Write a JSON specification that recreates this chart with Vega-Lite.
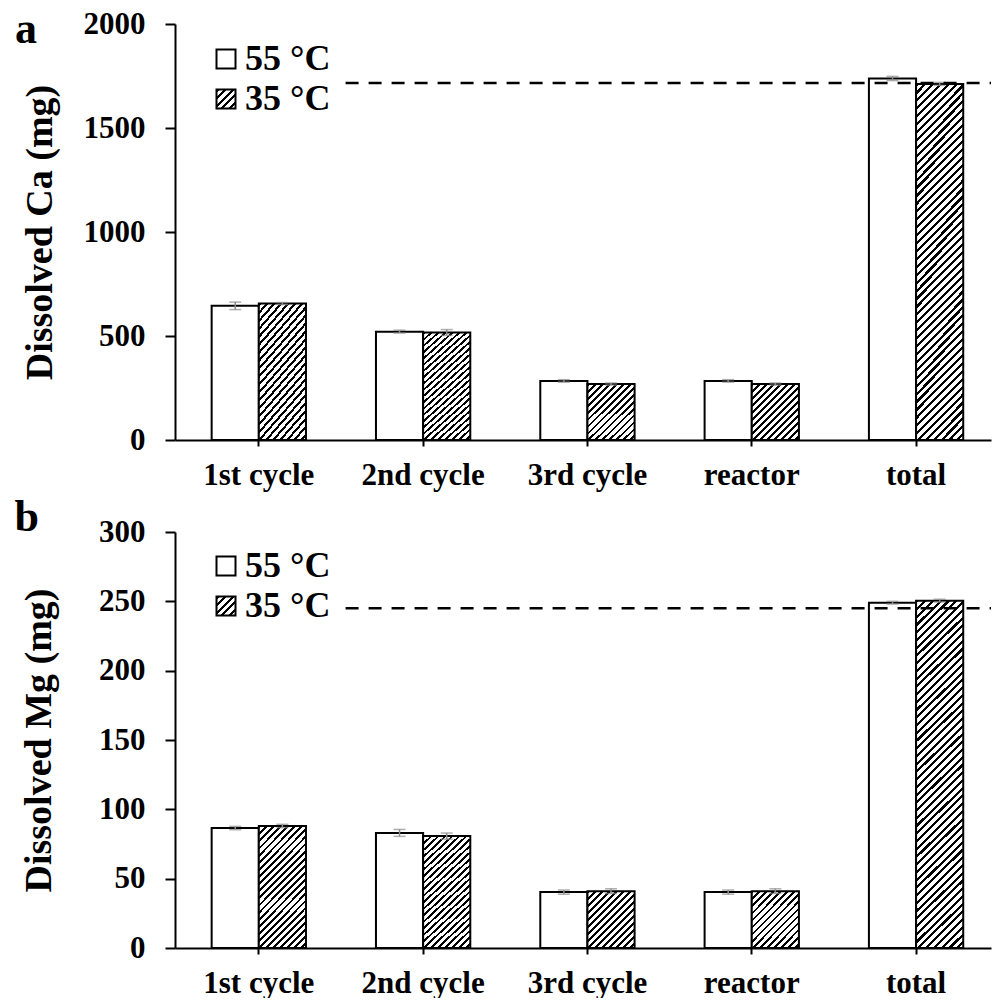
{
  "$schema": "https://vega.github.io/schema/vega-lite/v6.json",
  "padding": {"left": 14, "top": 8, "right": 0, "bottom": 0},
  "spacing": 6,
  "datasets": {
    "bars": [
      {"metal":"Ca","cat":"1st cycle","temp":"55 °C","value":645,"lo":627,"hi":663},
      {"metal":"Ca","cat":"1st cycle","temp":"35 °C","value":656,"lo":651,"hi":661},
      {"metal":"Ca","cat":"2nd cycle","temp":"55 °C","value":521,"lo":514,"hi":528},
      {"metal":"Ca","cat":"2nd cycle","temp":"35 °C","value":517,"lo":503,"hi":531},
      {"metal":"Ca","cat":"3rd cycle","temp":"55 °C","value":284,"lo":278,"hi":290},
      {"metal":"Ca","cat":"3rd cycle","temp":"35 °C","value":269,"lo":264,"hi":274},
      {"metal":"Ca","cat":"reactor","temp":"55 °C","value":284,"lo":278,"hi":290},
      {"metal":"Ca","cat":"reactor","temp":"35 °C","value":269,"lo":264,"hi":274},
      {"metal":"Ca","cat":"total","temp":"55 °C","value":1738,"lo":1728,"hi":1748},
      {"metal":"Ca","cat":"total","temp":"35 °C","value":1712,"lo":1705,"hi":1719},
      {"metal":"Mg","cat":"1st cycle","temp":"55 °C","value":86.5,"lo":85.3,"hi":87.7},
      {"metal":"Mg","cat":"1st cycle","temp":"35 °C","value":88,"lo":86.8,"hi":89.2},
      {"metal":"Mg","cat":"2nd cycle","temp":"55 °C","value":83,"lo":80.5,"hi":85.5},
      {"metal":"Mg","cat":"2nd cycle","temp":"35 °C","value":80.7,"lo":78.5,"hi":82.9},
      {"metal":"Mg","cat":"3rd cycle","temp":"55 °C","value":40.3,"lo":38.8,"hi":41.8},
      {"metal":"Mg","cat":"3rd cycle","temp":"35 °C","value":41,"lo":39.3,"hi":42.7},
      {"metal":"Mg","cat":"reactor","temp":"55 °C","value":40.3,"lo":38.8,"hi":41.8},
      {"metal":"Mg","cat":"reactor","temp":"35 °C","value":41,"lo":39.3,"hi":42.7},
      {"metal":"Mg","cat":"total","temp":"55 °C","value":249,"lo":248,"hi":250},
      {"metal":"Mg","cat":"total","temp":"35 °C","value":250.5,"lo":249.5,"hi":251.5}
    ],
    "refs": [
      {"metal":"Ca","ref":1716},
      {"metal":"Mg","ref":245}
    ]
  },
  "resolve": {
    "scale": {"x": "independent", "y": "independent", "xOffset": "independent", "fill": "independent"},
    "legend": {"fill": "independent"}
  },
  "vconcat": [
    {
      "width": 816,
      "height": 416,
      "title": {"text": "a", "dy": 48, "dx": -6},
      "layer": [
        {
          "data": {"name": "bars"},
          "transform": [{"filter": "datum.metal === 'Ca'"}],
          "encoding": {
            "x": {"field": "cat", "type": "nominal", "title": null,
              "scale": {"domain": ["1st cycle","2nd cycle","3rd cycle","reactor","total"], "paddingInner": 0.426, "paddingOuter": 0.196, "align": 0.569}},
            "xOffset": {"field": "temp", "type": "nominal", "scale": {"domain": ["55 °C","35 °C"]}}
          },
          "layer": [
            {
              "transform": [{"filter": "datum.temp === '55 °C'"}],
              "mark": {"type": "bar", "stroke": "black", "strokeWidth": 2},
              "encoding": {
                "y": {"field": "value", "type": "quantitative", "title": "Dissolved Ca (mg)",
                  "scale": {"domain": [0, 2000], "nice": false},
                  "axis": {"values": [0,500,1000,1500,2000], "format": "d", "titlePadding": 24}},
                "fill": {"field": "temp", "type": "nominal",
                  "scale": {"domain": ["55 °C","35 °C"], "range": ["white", {"expr": "({gradient: 'linear', x1: 0, y1: 0, x2: 1, y2: 1, stops: [{offset: 0, color: '#000'}, {offset: 0.08, color: '#000'}, {offset: 0.08, color: '#fff'}, {offset: 0.2, color: '#fff'}, {offset: 0.2, color: '#000'}, {offset: 0.28, color: '#000'}, {offset: 0.28, color: '#fff'}, {offset: 0.4, color: '#fff'}, {offset: 0.4, color: '#000'}, {offset: 0.48, color: '#000'}, {offset: 0.48, color: '#fff'}, {offset: 0.6, color: '#fff'}, {offset: 0.6, color: '#000'}, {offset: 0.68, color: '#000'}, {offset: 0.68, color: '#fff'}, {offset: 0.8, color: '#fff'}, {offset: 0.8, color: '#000'}, {offset: 0.88, color: '#000'}, {offset: 0.88, color: '#fff'}, {offset: 1, color: '#fff'}]})"}]},
                  "legend": {"title": null, "legendX": 33, "legendY": 17}
                }
              }
            },
            {
              "transform": [{"filter": "datum.temp === '35 °C' && (datum.cat === '1st cycle' || datum.cat === '2nd cycle')"}],
              "mark": {"type": "bar", "stroke": "black", "strokeWidth": 2, "fill": {"gradient": "linear", "x1": 0, "y1": 0, "x2": 0.49637, "y2": 1.2633, "stops": [
        {"offset":0,"color":"#000"},{"offset":0.016,"color":"#000"},{"offset":0.016,"color":"#fff"},{"offset":0.04,"color":"#fff"},
        {"offset":0.04,"color":"#000"},{"offset":0.056,"color":"#000"},{"offset":0.056,"color":"#fff"},{"offset":0.08,"color":"#fff"},
        {"offset":0.08,"color":"#000"},{"offset":0.096,"color":"#000"},{"offset":0.096,"color":"#fff"},{"offset":0.12,"color":"#fff"},
        {"offset":0.12,"color":"#000"},{"offset":0.136,"color":"#000"},{"offset":0.136,"color":"#fff"},{"offset":0.16,"color":"#fff"},
        {"offset":0.16,"color":"#000"},{"offset":0.176,"color":"#000"},{"offset":0.176,"color":"#fff"},{"offset":0.2,"color":"#fff"},
        {"offset":0.2,"color":"#000"},{"offset":0.216,"color":"#000"},{"offset":0.216,"color":"#fff"},{"offset":0.24,"color":"#fff"},
        {"offset":0.24,"color":"#000"},{"offset":0.256,"color":"#000"},{"offset":0.256,"color":"#fff"},{"offset":0.28,"color":"#fff"},
        {"offset":0.28,"color":"#000"},{"offset":0.296,"color":"#000"},{"offset":0.296,"color":"#fff"},{"offset":0.32,"color":"#fff"},
        {"offset":0.32,"color":"#000"},{"offset":0.336,"color":"#000"},{"offset":0.336,"color":"#fff"},{"offset":0.36,"color":"#fff"},
        {"offset":0.36,"color":"#000"},{"offset":0.376,"color":"#000"},{"offset":0.376,"color":"#fff"},{"offset":0.4,"color":"#fff"},
        {"offset":0.4,"color":"#000"},{"offset":0.416,"color":"#000"},{"offset":0.416,"color":"#fff"},{"offset":0.44,"color":"#fff"},
        {"offset":0.44,"color":"#000"},{"offset":0.456,"color":"#000"},{"offset":0.456,"color":"#fff"},{"offset":0.48,"color":"#fff"},
        {"offset":0.48,"color":"#000"},{"offset":0.496,"color":"#000"},{"offset":0.496,"color":"#fff"},{"offset":0.52,"color":"#fff"},
        {"offset":0.52,"color":"#000"},{"offset":0.536,"color":"#000"},{"offset":0.536,"color":"#fff"},{"offset":0.56,"color":"#fff"},
        {"offset":0.56,"color":"#000"},{"offset":0.576,"color":"#000"},{"offset":0.576,"color":"#fff"},{"offset":0.6,"color":"#fff"},
        {"offset":0.6,"color":"#000"},{"offset":0.616,"color":"#000"},{"offset":0.616,"color":"#fff"},{"offset":0.64,"color":"#fff"},
        {"offset":0.64,"color":"#000"},{"offset":0.656,"color":"#000"},{"offset":0.656,"color":"#fff"},{"offset":0.68,"color":"#fff"},
        {"offset":0.68,"color":"#000"},{"offset":0.696,"color":"#000"},{"offset":0.696,"color":"#fff"},{"offset":0.72,"color":"#fff"},
        {"offset":0.72,"color":"#000"},{"offset":0.736,"color":"#000"},{"offset":0.736,"color":"#fff"},{"offset":0.76,"color":"#fff"},
        {"offset":0.76,"color":"#000"},{"offset":0.776,"color":"#000"},{"offset":0.776,"color":"#fff"},{"offset":0.8,"color":"#fff"},
        {"offset":0.8,"color":"#000"},{"offset":0.816,"color":"#000"},{"offset":0.816,"color":"#fff"},{"offset":0.84,"color":"#fff"},
        {"offset":0.84,"color":"#000"},{"offset":0.856,"color":"#000"},{"offset":0.856,"color":"#fff"},{"offset":0.88,"color":"#fff"},
        {"offset":0.88,"color":"#000"},{"offset":0.896,"color":"#000"},{"offset":0.896,"color":"#fff"},{"offset":0.92,"color":"#fff"},
        {"offset":0.92,"color":"#000"},{"offset":0.936,"color":"#000"},{"offset":0.936,"color":"#fff"},{"offset":0.96,"color":"#fff"}
              ]}},
              "encoding": {"y": {"field": "value", "type": "quantitative", "title": "Dissolved Ca (mg)"}}
            },
            {
              "transform": [{"filter": "datum.temp === '35 °C' && (datum.cat === '3rd cycle' || datum.cat === 'reactor')"}],
              "mark": {"type": "bar", "stroke": "black", "strokeWidth": 2, "fill": {"gradient": "linear", "x1": 0, "y1": 0, "x2": 0.97515, "y2": 1.16853, "stops": [
        {"offset":0,"color":"#000"},{"offset":0.025,"color":"#000"},{"offset":0.025,"color":"#fff"},{"offset":0.0625,"color":"#fff"},
        {"offset":0.0625,"color":"#000"},{"offset":0.0875,"color":"#000"},{"offset":0.0875,"color":"#fff"},{"offset":0.125,"color":"#fff"},
        {"offset":0.125,"color":"#000"},{"offset":0.15,"color":"#000"},{"offset":0.15,"color":"#fff"},{"offset":0.1875,"color":"#fff"},
        {"offset":0.1875,"color":"#000"},{"offset":0.2125,"color":"#000"},{"offset":0.2125,"color":"#fff"},{"offset":0.25,"color":"#fff"},
        {"offset":0.25,"color":"#000"},{"offset":0.275,"color":"#000"},{"offset":0.275,"color":"#fff"},{"offset":0.3125,"color":"#fff"},
        {"offset":0.3125,"color":"#000"},{"offset":0.3375,"color":"#000"},{"offset":0.3375,"color":"#fff"},{"offset":0.375,"color":"#fff"},
        {"offset":0.375,"color":"#000"},{"offset":0.4,"color":"#000"},{"offset":0.4,"color":"#fff"},{"offset":0.4375,"color":"#fff"},
        {"offset":0.4375,"color":"#000"},{"offset":0.4625,"color":"#000"},{"offset":0.4625,"color":"#fff"},{"offset":0.5,"color":"#fff"},
        {"offset":0.5,"color":"#000"},{"offset":0.525,"color":"#000"},{"offset":0.525,"color":"#fff"},{"offset":0.5625,"color":"#fff"},
        {"offset":0.5625,"color":"#000"},{"offset":0.5875,"color":"#000"},{"offset":0.5875,"color":"#fff"},{"offset":0.625,"color":"#fff"},
        {"offset":0.625,"color":"#000"},{"offset":0.65,"color":"#000"},{"offset":0.65,"color":"#fff"},{"offset":0.6875,"color":"#fff"},
        {"offset":0.6875,"color":"#000"},{"offset":0.7125,"color":"#000"},{"offset":0.7125,"color":"#fff"},{"offset":0.75,"color":"#fff"},
        {"offset":0.75,"color":"#000"},{"offset":0.775,"color":"#000"},{"offset":0.775,"color":"#fff"},{"offset":0.8125,"color":"#fff"},
        {"offset":0.8125,"color":"#000"},{"offset":0.8375,"color":"#000"},{"offset":0.8375,"color":"#fff"},{"offset":0.875,"color":"#fff"},
        {"offset":0.875,"color":"#000"},{"offset":0.9,"color":"#000"},{"offset":0.9,"color":"#fff"},{"offset":0.9375,"color":"#fff"}
              ]}},
              "encoding": {"y": {"field": "value", "type": "quantitative", "title": "Dissolved Ca (mg)"}}
            },
            {
              "transform": [{"filter": "datum.temp === '35 °C' && datum.cat === 'total'"}],
              "mark": {"type": "bar", "stroke": "black", "strokeWidth": 2, "fill": {"gradient": "linear", "x1": 0, "y1": 0, "x2": 0.15037, "y2": 1.1194, "stops": [
        {"offset":0,"color":"#000"},{"offset":0.0078125,"color":"#000"},{"offset":0.0078125,"color":"#fff"},{"offset":0.01953125,"color":"#fff"},
        {"offset":0.01953125,"color":"#000"},{"offset":0.02734375,"color":"#000"},{"offset":0.02734375,"color":"#fff"},{"offset":0.0390625,"color":"#fff"},
        {"offset":0.0390625,"color":"#000"},{"offset":0.046875,"color":"#000"},{"offset":0.046875,"color":"#fff"},{"offset":0.05859375,"color":"#fff"},
        {"offset":0.05859375,"color":"#000"},{"offset":0.06640625,"color":"#000"},{"offset":0.06640625,"color":"#fff"},{"offset":0.078125,"color":"#fff"},
        {"offset":0.078125,"color":"#000"},{"offset":0.0859375,"color":"#000"},{"offset":0.0859375,"color":"#fff"},{"offset":0.09765625,"color":"#fff"},
        {"offset":0.09765625,"color":"#000"},{"offset":0.10546875,"color":"#000"},{"offset":0.10546875,"color":"#fff"},{"offset":0.1171875,"color":"#fff"},
        {"offset":0.1171875,"color":"#000"},{"offset":0.125,"color":"#000"},{"offset":0.125,"color":"#fff"},{"offset":0.13671875,"color":"#fff"},
        {"offset":0.13671875,"color":"#000"},{"offset":0.14453125,"color":"#000"},{"offset":0.14453125,"color":"#fff"},{"offset":0.15625,"color":"#fff"},
        {"offset":0.15625,"color":"#000"},{"offset":0.1640625,"color":"#000"},{"offset":0.1640625,"color":"#fff"},{"offset":0.17578125,"color":"#fff"},
        {"offset":0.17578125,"color":"#000"},{"offset":0.18359375,"color":"#000"},{"offset":0.18359375,"color":"#fff"},{"offset":0.1953125,"color":"#fff"},
        {"offset":0.1953125,"color":"#000"},{"offset":0.203125,"color":"#000"},{"offset":0.203125,"color":"#fff"},{"offset":0.21484375,"color":"#fff"},
        {"offset":0.21484375,"color":"#000"},{"offset":0.22265625,"color":"#000"},{"offset":0.22265625,"color":"#fff"},{"offset":0.234375,"color":"#fff"},
        {"offset":0.234375,"color":"#000"},{"offset":0.2421875,"color":"#000"},{"offset":0.2421875,"color":"#fff"},{"offset":0.25390625,"color":"#fff"},
        {"offset":0.25390625,"color":"#000"},{"offset":0.26171875,"color":"#000"},{"offset":0.26171875,"color":"#fff"},{"offset":0.2734375,"color":"#fff"},
        {"offset":0.2734375,"color":"#000"},{"offset":0.28125,"color":"#000"},{"offset":0.28125,"color":"#fff"},{"offset":0.29296875,"color":"#fff"},
        {"offset":0.29296875,"color":"#000"},{"offset":0.30078125,"color":"#000"},{"offset":0.30078125,"color":"#fff"},{"offset":0.3125,"color":"#fff"},
        {"offset":0.3125,"color":"#000"},{"offset":0.3203125,"color":"#000"},{"offset":0.3203125,"color":"#fff"},{"offset":0.33203125,"color":"#fff"},
        {"offset":0.33203125,"color":"#000"},{"offset":0.33984375,"color":"#000"},{"offset":0.33984375,"color":"#fff"},{"offset":0.3515625,"color":"#fff"},
        {"offset":0.3515625,"color":"#000"},{"offset":0.359375,"color":"#000"},{"offset":0.359375,"color":"#fff"},{"offset":0.37109375,"color":"#fff"},
        {"offset":0.37109375,"color":"#000"},{"offset":0.37890625,"color":"#000"},{"offset":0.37890625,"color":"#fff"},{"offset":0.390625,"color":"#fff"},
        {"offset":0.390625,"color":"#000"},{"offset":0.3984375,"color":"#000"},{"offset":0.3984375,"color":"#fff"},{"offset":0.41015625,"color":"#fff"},
        {"offset":0.41015625,"color":"#000"},{"offset":0.41796875,"color":"#000"},{"offset":0.41796875,"color":"#fff"},{"offset":0.4296875,"color":"#fff"},
        {"offset":0.4296875,"color":"#000"},{"offset":0.4375,"color":"#000"},{"offset":0.4375,"color":"#fff"},{"offset":0.44921875,"color":"#fff"},
        {"offset":0.44921875,"color":"#000"},{"offset":0.45703125,"color":"#000"},{"offset":0.45703125,"color":"#fff"},{"offset":0.46875,"color":"#fff"},
        {"offset":0.46875,"color":"#000"},{"offset":0.4765625,"color":"#000"},{"offset":0.4765625,"color":"#fff"},{"offset":0.48828125,"color":"#fff"},
        {"offset":0.48828125,"color":"#000"},{"offset":0.49609375,"color":"#000"},{"offset":0.49609375,"color":"#fff"},{"offset":0.5078125,"color":"#fff"},
        {"offset":0.5078125,"color":"#000"},{"offset":0.515625,"color":"#000"},{"offset":0.515625,"color":"#fff"},{"offset":0.52734375,"color":"#fff"},
        {"offset":0.52734375,"color":"#000"},{"offset":0.53515625,"color":"#000"},{"offset":0.53515625,"color":"#fff"},{"offset":0.546875,"color":"#fff"},
        {"offset":0.546875,"color":"#000"},{"offset":0.5546875,"color":"#000"},{"offset":0.5546875,"color":"#fff"},{"offset":0.56640625,"color":"#fff"},
        {"offset":0.56640625,"color":"#000"},{"offset":0.57421875,"color":"#000"},{"offset":0.57421875,"color":"#fff"},{"offset":0.5859375,"color":"#fff"},
        {"offset":0.5859375,"color":"#000"},{"offset":0.59375,"color":"#000"},{"offset":0.59375,"color":"#fff"},{"offset":0.60546875,"color":"#fff"},
        {"offset":0.60546875,"color":"#000"},{"offset":0.61328125,"color":"#000"},{"offset":0.61328125,"color":"#fff"},{"offset":0.625,"color":"#fff"},
        {"offset":0.625,"color":"#000"},{"offset":0.6328125,"color":"#000"},{"offset":0.6328125,"color":"#fff"},{"offset":0.64453125,"color":"#fff"},
        {"offset":0.64453125,"color":"#000"},{"offset":0.65234375,"color":"#000"},{"offset":0.65234375,"color":"#fff"},{"offset":0.6640625,"color":"#fff"},
        {"offset":0.6640625,"color":"#000"},{"offset":0.671875,"color":"#000"},{"offset":0.671875,"color":"#fff"},{"offset":0.68359375,"color":"#fff"},
        {"offset":0.68359375,"color":"#000"},{"offset":0.69140625,"color":"#000"},{"offset":0.69140625,"color":"#fff"},{"offset":0.703125,"color":"#fff"},
        {"offset":0.703125,"color":"#000"},{"offset":0.7109375,"color":"#000"},{"offset":0.7109375,"color":"#fff"},{"offset":0.72265625,"color":"#fff"},
        {"offset":0.72265625,"color":"#000"},{"offset":0.73046875,"color":"#000"},{"offset":0.73046875,"color":"#fff"},{"offset":0.7421875,"color":"#fff"},
        {"offset":0.7421875,"color":"#000"},{"offset":0.75,"color":"#000"},{"offset":0.75,"color":"#fff"},{"offset":0.76171875,"color":"#fff"},
        {"offset":0.76171875,"color":"#000"},{"offset":0.76953125,"color":"#000"},{"offset":0.76953125,"color":"#fff"},{"offset":0.78125,"color":"#fff"},
        {"offset":0.78125,"color":"#000"},{"offset":0.7890625,"color":"#000"},{"offset":0.7890625,"color":"#fff"},{"offset":0.80078125,"color":"#fff"},
        {"offset":0.80078125,"color":"#000"},{"offset":0.80859375,"color":"#000"},{"offset":0.80859375,"color":"#fff"},{"offset":0.8203125,"color":"#fff"},
        {"offset":0.8203125,"color":"#000"},{"offset":0.828125,"color":"#000"},{"offset":0.828125,"color":"#fff"},{"offset":0.83984375,"color":"#fff"},
        {"offset":0.83984375,"color":"#000"},{"offset":0.84765625,"color":"#000"},{"offset":0.84765625,"color":"#fff"},{"offset":0.859375,"color":"#fff"},
        {"offset":0.859375,"color":"#000"},{"offset":0.8671875,"color":"#000"},{"offset":0.8671875,"color":"#fff"},{"offset":0.87890625,"color":"#fff"},
        {"offset":0.87890625,"color":"#000"},{"offset":0.88671875,"color":"#000"},{"offset":0.88671875,"color":"#fff"},{"offset":0.8984375,"color":"#fff"},
        {"offset":0.8984375,"color":"#000"},{"offset":0.90625,"color":"#000"},{"offset":0.90625,"color":"#fff"},{"offset":0.91796875,"color":"#fff"},
        {"offset":0.91796875,"color":"#000"},{"offset":0.92578125,"color":"#000"},{"offset":0.92578125,"color":"#fff"},{"offset":0.9375,"color":"#fff"},
        {"offset":0.9375,"color":"#000"},{"offset":0.9453125,"color":"#000"},{"offset":0.9453125,"color":"#fff"},{"offset":0.95703125,"color":"#fff"},
        {"offset":0.95703125,"color":"#000"},{"offset":0.96484375,"color":"#000"},{"offset":0.96484375,"color":"#fff"},{"offset":0.9765625,"color":"#fff"},
        {"offset":0.9765625,"color":"#000"},{"offset":0.984375,"color":"#000"},{"offset":0.984375,"color":"#fff"},{"offset":1,"color":"#fff"}
              ]}},
              "encoding": {"y": {"field": "value", "type": "quantitative", "title": "Dissolved Ca (mg)"}}
            },
            {
              "mark": {"type": "rule", "color": "#8c8c8c", "strokeWidth": 1.5},
              "encoding": {"y": {"field": "lo", "type": "quantitative", "title": "Dissolved Ca (mg)"}, "y2": {"field": "hi"}}
            },
            {
              "mark": {"type": "tick", "color": "#8c8c8c", "thickness": 1.5, "size": 12},
              "encoding": {"y": {"field": "lo", "type": "quantitative", "title": "Dissolved Ca (mg)"}}
            },
            {
              "mark": {"type": "tick", "color": "#8c8c8c", "thickness": 1.5, "size": 12},
              "encoding": {"y": {"field": "hi", "type": "quantitative", "title": "Dissolved Ca (mg)"}}
            }
          ]
        },
        {
          "data": {"name": "refs"},
          "transform": [{"filter": "datum.metal === 'Ca'"}],
          "mark": {"type": "rule", "color": "black", "strokeWidth": 2.5, "strokeDash": [13, 10]},
          "encoding": {
            "x": {"datum": "1st cycle", "type": "nominal", "bandPosition": 1.42, "title": null},
            "x2": {"value": "width"},
            "y": {"field": "ref", "type": "quantitative", "title": "Dissolved Ca (mg)"}
          }
        }
      ]
    },
    {
      "width": 816,
      "height": 416,
      "title": {"text": "b", "dy": 28, "dx": -6},
      "layer": [
        {
          "data": {"name": "bars"},
          "transform": [{"filter": "datum.metal === 'Mg'"}],
          "encoding": {
            "x": {"field": "cat", "type": "nominal", "title": null,
              "scale": {"domain": ["1st cycle","2nd cycle","3rd cycle","reactor","total"], "paddingInner": 0.426, "paddingOuter": 0.196, "align": 0.569}},
            "xOffset": {"field": "temp", "type": "nominal", "scale": {"domain": ["55 °C","35 °C"]}}
          },
          "layer": [
            {
              "transform": [{"filter": "datum.temp === '55 °C'"}],
              "mark": {"type": "bar", "stroke": "black", "strokeWidth": 2},
              "encoding": {
                "y": {"field": "value", "type": "quantitative", "title": "Dissolved Mg (mg)",
                  "scale": {"domain": [0, 300], "nice": false},
                  "axis": {"values": [0,50,100,150,200,250,300], "format": "d", "titlePadding": 40}},
                "fill": {"field": "temp", "type": "nominal",
                  "scale": {"domain": ["55 °C","35 °C"], "range": ["white", {"expr": "({gradient: 'linear', x1: 0, y1: 0, x2: 1, y2: 1, stops: [{offset: 0, color: '#000'}, {offset: 0.08, color: '#000'}, {offset: 0.08, color: '#fff'}, {offset: 0.2, color: '#fff'}, {offset: 0.2, color: '#000'}, {offset: 0.28, color: '#000'}, {offset: 0.28, color: '#fff'}, {offset: 0.4, color: '#fff'}, {offset: 0.4, color: '#000'}, {offset: 0.48, color: '#000'}, {offset: 0.48, color: '#fff'}, {offset: 0.6, color: '#fff'}, {offset: 0.6, color: '#000'}, {offset: 0.68, color: '#000'}, {offset: 0.68, color: '#fff'}, {offset: 0.8, color: '#fff'}, {offset: 0.8, color: '#000'}, {offset: 0.88, color: '#000'}, {offset: 0.88, color: '#fff'}, {offset: 1, color: '#fff'}]})"}]},
                  "legend": {"title": null, "legendX": 33, "legendY": 16}
                }
              }
            },
            {
              "transform": [{"filter": "datum.temp === '35 °C' && (datum.cat === '1st cycle' || datum.cat === '2nd cycle')"}],
              "mark": {"type": "bar", "stroke": "black", "strokeWidth": 2, "fill": {"gradient": "linear", "x1": 0, "y1": 0, "x2": 0.49637, "y2": 1.2633, "stops": [
        {"offset":0,"color":"#000"},{"offset":0.016,"color":"#000"},{"offset":0.016,"color":"#fff"},{"offset":0.04,"color":"#fff"},
        {"offset":0.04,"color":"#000"},{"offset":0.056,"color":"#000"},{"offset":0.056,"color":"#fff"},{"offset":0.08,"color":"#fff"},
        {"offset":0.08,"color":"#000"},{"offset":0.096,"color":"#000"},{"offset":0.096,"color":"#fff"},{"offset":0.12,"color":"#fff"},
        {"offset":0.12,"color":"#000"},{"offset":0.136,"color":"#000"},{"offset":0.136,"color":"#fff"},{"offset":0.16,"color":"#fff"},
        {"offset":0.16,"color":"#000"},{"offset":0.176,"color":"#000"},{"offset":0.176,"color":"#fff"},{"offset":0.2,"color":"#fff"},
        {"offset":0.2,"color":"#000"},{"offset":0.216,"color":"#000"},{"offset":0.216,"color":"#fff"},{"offset":0.24,"color":"#fff"},
        {"offset":0.24,"color":"#000"},{"offset":0.256,"color":"#000"},{"offset":0.256,"color":"#fff"},{"offset":0.28,"color":"#fff"},
        {"offset":0.28,"color":"#000"},{"offset":0.296,"color":"#000"},{"offset":0.296,"color":"#fff"},{"offset":0.32,"color":"#fff"},
        {"offset":0.32,"color":"#000"},{"offset":0.336,"color":"#000"},{"offset":0.336,"color":"#fff"},{"offset":0.36,"color":"#fff"},
        {"offset":0.36,"color":"#000"},{"offset":0.376,"color":"#000"},{"offset":0.376,"color":"#fff"},{"offset":0.4,"color":"#fff"},
        {"offset":0.4,"color":"#000"},{"offset":0.416,"color":"#000"},{"offset":0.416,"color":"#fff"},{"offset":0.44,"color":"#fff"},
        {"offset":0.44,"color":"#000"},{"offset":0.456,"color":"#000"},{"offset":0.456,"color":"#fff"},{"offset":0.48,"color":"#fff"},
        {"offset":0.48,"color":"#000"},{"offset":0.496,"color":"#000"},{"offset":0.496,"color":"#fff"},{"offset":0.52,"color":"#fff"},
        {"offset":0.52,"color":"#000"},{"offset":0.536,"color":"#000"},{"offset":0.536,"color":"#fff"},{"offset":0.56,"color":"#fff"},
        {"offset":0.56,"color":"#000"},{"offset":0.576,"color":"#000"},{"offset":0.576,"color":"#fff"},{"offset":0.6,"color":"#fff"},
        {"offset":0.6,"color":"#000"},{"offset":0.616,"color":"#000"},{"offset":0.616,"color":"#fff"},{"offset":0.64,"color":"#fff"},
        {"offset":0.64,"color":"#000"},{"offset":0.656,"color":"#000"},{"offset":0.656,"color":"#fff"},{"offset":0.68,"color":"#fff"},
        {"offset":0.68,"color":"#000"},{"offset":0.696,"color":"#000"},{"offset":0.696,"color":"#fff"},{"offset":0.72,"color":"#fff"},
        {"offset":0.72,"color":"#000"},{"offset":0.736,"color":"#000"},{"offset":0.736,"color":"#fff"},{"offset":0.76,"color":"#fff"},
        {"offset":0.76,"color":"#000"},{"offset":0.776,"color":"#000"},{"offset":0.776,"color":"#fff"},{"offset":0.8,"color":"#fff"},
        {"offset":0.8,"color":"#000"},{"offset":0.816,"color":"#000"},{"offset":0.816,"color":"#fff"},{"offset":0.84,"color":"#fff"},
        {"offset":0.84,"color":"#000"},{"offset":0.856,"color":"#000"},{"offset":0.856,"color":"#fff"},{"offset":0.88,"color":"#fff"},
        {"offset":0.88,"color":"#000"},{"offset":0.896,"color":"#000"},{"offset":0.896,"color":"#fff"},{"offset":0.92,"color":"#fff"},
        {"offset":0.92,"color":"#000"},{"offset":0.936,"color":"#000"},{"offset":0.936,"color":"#fff"},{"offset":0.96,"color":"#fff"}
              ]}},
              "encoding": {"y": {"field": "value", "type": "quantitative", "title": "Dissolved Mg (mg)"}}
            },
            {
              "transform": [{"filter": "datum.temp === '35 °C' && (datum.cat === '3rd cycle' || datum.cat === 'reactor')"}],
              "mark": {"type": "bar", "stroke": "black", "strokeWidth": 2, "fill": {"gradient": "linear", "x1": 0, "y1": 0, "x2": 0.97515, "y2": 1.16853, "stops": [
        {"offset":0,"color":"#000"},{"offset":0.025,"color":"#000"},{"offset":0.025,"color":"#fff"},{"offset":0.0625,"color":"#fff"},
        {"offset":0.0625,"color":"#000"},{"offset":0.0875,"color":"#000"},{"offset":0.0875,"color":"#fff"},{"offset":0.125,"color":"#fff"},
        {"offset":0.125,"color":"#000"},{"offset":0.15,"color":"#000"},{"offset":0.15,"color":"#fff"},{"offset":0.1875,"color":"#fff"},
        {"offset":0.1875,"color":"#000"},{"offset":0.2125,"color":"#000"},{"offset":0.2125,"color":"#fff"},{"offset":0.25,"color":"#fff"},
        {"offset":0.25,"color":"#000"},{"offset":0.275,"color":"#000"},{"offset":0.275,"color":"#fff"},{"offset":0.3125,"color":"#fff"},
        {"offset":0.3125,"color":"#000"},{"offset":0.3375,"color":"#000"},{"offset":0.3375,"color":"#fff"},{"offset":0.375,"color":"#fff"},
        {"offset":0.375,"color":"#000"},{"offset":0.4,"color":"#000"},{"offset":0.4,"color":"#fff"},{"offset":0.4375,"color":"#fff"},
        {"offset":0.4375,"color":"#000"},{"offset":0.4625,"color":"#000"},{"offset":0.4625,"color":"#fff"},{"offset":0.5,"color":"#fff"},
        {"offset":0.5,"color":"#000"},{"offset":0.525,"color":"#000"},{"offset":0.525,"color":"#fff"},{"offset":0.5625,"color":"#fff"},
        {"offset":0.5625,"color":"#000"},{"offset":0.5875,"color":"#000"},{"offset":0.5875,"color":"#fff"},{"offset":0.625,"color":"#fff"},
        {"offset":0.625,"color":"#000"},{"offset":0.65,"color":"#000"},{"offset":0.65,"color":"#fff"},{"offset":0.6875,"color":"#fff"},
        {"offset":0.6875,"color":"#000"},{"offset":0.7125,"color":"#000"},{"offset":0.7125,"color":"#fff"},{"offset":0.75,"color":"#fff"},
        {"offset":0.75,"color":"#000"},{"offset":0.775,"color":"#000"},{"offset":0.775,"color":"#fff"},{"offset":0.8125,"color":"#fff"},
        {"offset":0.8125,"color":"#000"},{"offset":0.8375,"color":"#000"},{"offset":0.8375,"color":"#fff"},{"offset":0.875,"color":"#fff"},
        {"offset":0.875,"color":"#000"},{"offset":0.9,"color":"#000"},{"offset":0.9,"color":"#fff"},{"offset":0.9375,"color":"#fff"}
              ]}},
              "encoding": {"y": {"field": "value", "type": "quantitative", "title": "Dissolved Mg (mg)"}}
            },
            {
              "transform": [{"filter": "datum.temp === '35 °C' && datum.cat === 'total'"}],
              "mark": {"type": "bar", "stroke": "black", "strokeWidth": 2, "fill": {"gradient": "linear", "x1": 0, "y1": 0, "x2": 0.15037, "y2": 1.1194, "stops": [
        {"offset":0,"color":"#000"},{"offset":0.0078125,"color":"#000"},{"offset":0.0078125,"color":"#fff"},{"offset":0.01953125,"color":"#fff"},
        {"offset":0.01953125,"color":"#000"},{"offset":0.02734375,"color":"#000"},{"offset":0.02734375,"color":"#fff"},{"offset":0.0390625,"color":"#fff"},
        {"offset":0.0390625,"color":"#000"},{"offset":0.046875,"color":"#000"},{"offset":0.046875,"color":"#fff"},{"offset":0.05859375,"color":"#fff"},
        {"offset":0.05859375,"color":"#000"},{"offset":0.06640625,"color":"#000"},{"offset":0.06640625,"color":"#fff"},{"offset":0.078125,"color":"#fff"},
        {"offset":0.078125,"color":"#000"},{"offset":0.0859375,"color":"#000"},{"offset":0.0859375,"color":"#fff"},{"offset":0.09765625,"color":"#fff"},
        {"offset":0.09765625,"color":"#000"},{"offset":0.10546875,"color":"#000"},{"offset":0.10546875,"color":"#fff"},{"offset":0.1171875,"color":"#fff"},
        {"offset":0.1171875,"color":"#000"},{"offset":0.125,"color":"#000"},{"offset":0.125,"color":"#fff"},{"offset":0.13671875,"color":"#fff"},
        {"offset":0.13671875,"color":"#000"},{"offset":0.14453125,"color":"#000"},{"offset":0.14453125,"color":"#fff"},{"offset":0.15625,"color":"#fff"},
        {"offset":0.15625,"color":"#000"},{"offset":0.1640625,"color":"#000"},{"offset":0.1640625,"color":"#fff"},{"offset":0.17578125,"color":"#fff"},
        {"offset":0.17578125,"color":"#000"},{"offset":0.18359375,"color":"#000"},{"offset":0.18359375,"color":"#fff"},{"offset":0.1953125,"color":"#fff"},
        {"offset":0.1953125,"color":"#000"},{"offset":0.203125,"color":"#000"},{"offset":0.203125,"color":"#fff"},{"offset":0.21484375,"color":"#fff"},
        {"offset":0.21484375,"color":"#000"},{"offset":0.22265625,"color":"#000"},{"offset":0.22265625,"color":"#fff"},{"offset":0.234375,"color":"#fff"},
        {"offset":0.234375,"color":"#000"},{"offset":0.2421875,"color":"#000"},{"offset":0.2421875,"color":"#fff"},{"offset":0.25390625,"color":"#fff"},
        {"offset":0.25390625,"color":"#000"},{"offset":0.26171875,"color":"#000"},{"offset":0.26171875,"color":"#fff"},{"offset":0.2734375,"color":"#fff"},
        {"offset":0.2734375,"color":"#000"},{"offset":0.28125,"color":"#000"},{"offset":0.28125,"color":"#fff"},{"offset":0.29296875,"color":"#fff"},
        {"offset":0.29296875,"color":"#000"},{"offset":0.30078125,"color":"#000"},{"offset":0.30078125,"color":"#fff"},{"offset":0.3125,"color":"#fff"},
        {"offset":0.3125,"color":"#000"},{"offset":0.3203125,"color":"#000"},{"offset":0.3203125,"color":"#fff"},{"offset":0.33203125,"color":"#fff"},
        {"offset":0.33203125,"color":"#000"},{"offset":0.33984375,"color":"#000"},{"offset":0.33984375,"color":"#fff"},{"offset":0.3515625,"color":"#fff"},
        {"offset":0.3515625,"color":"#000"},{"offset":0.359375,"color":"#000"},{"offset":0.359375,"color":"#fff"},{"offset":0.37109375,"color":"#fff"},
        {"offset":0.37109375,"color":"#000"},{"offset":0.37890625,"color":"#000"},{"offset":0.37890625,"color":"#fff"},{"offset":0.390625,"color":"#fff"},
        {"offset":0.390625,"color":"#000"},{"offset":0.3984375,"color":"#000"},{"offset":0.3984375,"color":"#fff"},{"offset":0.41015625,"color":"#fff"},
        {"offset":0.41015625,"color":"#000"},{"offset":0.41796875,"color":"#000"},{"offset":0.41796875,"color":"#fff"},{"offset":0.4296875,"color":"#fff"},
        {"offset":0.4296875,"color":"#000"},{"offset":0.4375,"color":"#000"},{"offset":0.4375,"color":"#fff"},{"offset":0.44921875,"color":"#fff"},
        {"offset":0.44921875,"color":"#000"},{"offset":0.45703125,"color":"#000"},{"offset":0.45703125,"color":"#fff"},{"offset":0.46875,"color":"#fff"},
        {"offset":0.46875,"color":"#000"},{"offset":0.4765625,"color":"#000"},{"offset":0.4765625,"color":"#fff"},{"offset":0.48828125,"color":"#fff"},
        {"offset":0.48828125,"color":"#000"},{"offset":0.49609375,"color":"#000"},{"offset":0.49609375,"color":"#fff"},{"offset":0.5078125,"color":"#fff"},
        {"offset":0.5078125,"color":"#000"},{"offset":0.515625,"color":"#000"},{"offset":0.515625,"color":"#fff"},{"offset":0.52734375,"color":"#fff"},
        {"offset":0.52734375,"color":"#000"},{"offset":0.53515625,"color":"#000"},{"offset":0.53515625,"color":"#fff"},{"offset":0.546875,"color":"#fff"},
        {"offset":0.546875,"color":"#000"},{"offset":0.5546875,"color":"#000"},{"offset":0.5546875,"color":"#fff"},{"offset":0.56640625,"color":"#fff"},
        {"offset":0.56640625,"color":"#000"},{"offset":0.57421875,"color":"#000"},{"offset":0.57421875,"color":"#fff"},{"offset":0.5859375,"color":"#fff"},
        {"offset":0.5859375,"color":"#000"},{"offset":0.59375,"color":"#000"},{"offset":0.59375,"color":"#fff"},{"offset":0.60546875,"color":"#fff"},
        {"offset":0.60546875,"color":"#000"},{"offset":0.61328125,"color":"#000"},{"offset":0.61328125,"color":"#fff"},{"offset":0.625,"color":"#fff"},
        {"offset":0.625,"color":"#000"},{"offset":0.6328125,"color":"#000"},{"offset":0.6328125,"color":"#fff"},{"offset":0.64453125,"color":"#fff"},
        {"offset":0.64453125,"color":"#000"},{"offset":0.65234375,"color":"#000"},{"offset":0.65234375,"color":"#fff"},{"offset":0.6640625,"color":"#fff"},
        {"offset":0.6640625,"color":"#000"},{"offset":0.671875,"color":"#000"},{"offset":0.671875,"color":"#fff"},{"offset":0.68359375,"color":"#fff"},
        {"offset":0.68359375,"color":"#000"},{"offset":0.69140625,"color":"#000"},{"offset":0.69140625,"color":"#fff"},{"offset":0.703125,"color":"#fff"},
        {"offset":0.703125,"color":"#000"},{"offset":0.7109375,"color":"#000"},{"offset":0.7109375,"color":"#fff"},{"offset":0.72265625,"color":"#fff"},
        {"offset":0.72265625,"color":"#000"},{"offset":0.73046875,"color":"#000"},{"offset":0.73046875,"color":"#fff"},{"offset":0.7421875,"color":"#fff"},
        {"offset":0.7421875,"color":"#000"},{"offset":0.75,"color":"#000"},{"offset":0.75,"color":"#fff"},{"offset":0.76171875,"color":"#fff"},
        {"offset":0.76171875,"color":"#000"},{"offset":0.76953125,"color":"#000"},{"offset":0.76953125,"color":"#fff"},{"offset":0.78125,"color":"#fff"},
        {"offset":0.78125,"color":"#000"},{"offset":0.7890625,"color":"#000"},{"offset":0.7890625,"color":"#fff"},{"offset":0.80078125,"color":"#fff"},
        {"offset":0.80078125,"color":"#000"},{"offset":0.80859375,"color":"#000"},{"offset":0.80859375,"color":"#fff"},{"offset":0.8203125,"color":"#fff"},
        {"offset":0.8203125,"color":"#000"},{"offset":0.828125,"color":"#000"},{"offset":0.828125,"color":"#fff"},{"offset":0.83984375,"color":"#fff"},
        {"offset":0.83984375,"color":"#000"},{"offset":0.84765625,"color":"#000"},{"offset":0.84765625,"color":"#fff"},{"offset":0.859375,"color":"#fff"},
        {"offset":0.859375,"color":"#000"},{"offset":0.8671875,"color":"#000"},{"offset":0.8671875,"color":"#fff"},{"offset":0.87890625,"color":"#fff"},
        {"offset":0.87890625,"color":"#000"},{"offset":0.88671875,"color":"#000"},{"offset":0.88671875,"color":"#fff"},{"offset":0.8984375,"color":"#fff"},
        {"offset":0.8984375,"color":"#000"},{"offset":0.90625,"color":"#000"},{"offset":0.90625,"color":"#fff"},{"offset":0.91796875,"color":"#fff"},
        {"offset":0.91796875,"color":"#000"},{"offset":0.92578125,"color":"#000"},{"offset":0.92578125,"color":"#fff"},{"offset":0.9375,"color":"#fff"},
        {"offset":0.9375,"color":"#000"},{"offset":0.9453125,"color":"#000"},{"offset":0.9453125,"color":"#fff"},{"offset":0.95703125,"color":"#fff"},
        {"offset":0.95703125,"color":"#000"},{"offset":0.96484375,"color":"#000"},{"offset":0.96484375,"color":"#fff"},{"offset":0.9765625,"color":"#fff"},
        {"offset":0.9765625,"color":"#000"},{"offset":0.984375,"color":"#000"},{"offset":0.984375,"color":"#fff"},{"offset":1,"color":"#fff"}
              ]}},
              "encoding": {"y": {"field": "value", "type": "quantitative", "title": "Dissolved Mg (mg)"}}
            },
            {
              "mark": {"type": "rule", "color": "#8c8c8c", "strokeWidth": 1.5},
              "encoding": {"y": {"field": "lo", "type": "quantitative", "title": "Dissolved Mg (mg)"}, "y2": {"field": "hi"}}
            },
            {
              "mark": {"type": "tick", "color": "#8c8c8c", "thickness": 1.5, "size": 12},
              "encoding": {"y": {"field": "lo", "type": "quantitative", "title": "Dissolved Mg (mg)"}}
            },
            {
              "mark": {"type": "tick", "color": "#8c8c8c", "thickness": 1.5, "size": 12},
              "encoding": {"y": {"field": "hi", "type": "quantitative", "title": "Dissolved Mg (mg)"}}
            }
          ]
        },
        {
          "data": {"name": "refs"},
          "transform": [{"filter": "datum.metal === 'Mg'"}],
          "mark": {"type": "rule", "color": "black", "strokeWidth": 2.5, "strokeDash": [13, 10]},
          "encoding": {
            "x": {"datum": "1st cycle", "type": "nominal", "bandPosition": 1.42, "title": null},
            "x2": {"value": "width"},
            "y": {"field": "ref", "type": "quantitative", "title": "Dissolved Mg (mg)"}
          }
        }
      ]
    }
  ],
  "config": {
    "view": {"stroke": null},
    "font": "Liberation Serif",
    "axis": {"labelFont": "Liberation Serif", "labelFontWeight": "bold", "labelColor": "black", "labelFontSize": 31,
      "titleFont": "Liberation Serif", "titleFontWeight": "bold", "titleColor": "black",
      "domainColor": "black", "domainWidth": 2, "tickColor": "black", "tickWidth": 2, "grid": false},
    "axisX": {"tickSize": 6, "labelPadding": 14, "labelAngle": 0},
    "axisY": {"tickSize": 10, "labelPadding": 20, "titleFontSize": 38},
    "title": {"font": "Liberation Serif", "fontSize": 44, "fontWeight": "bold", "color": "black", "anchor": "start", "frame": "bounds", "offset": 0, "baseline": "alphabetic"},
    "legend": {"orient": "none", "labelFont": "Liberation Serif", "labelFontSize": 36, "labelFontWeight": "bold", "labelColor": "black",
      "symbolType": "square", "symbolSize": 361, "symbolStrokeColor": "black", "symbolStrokeWidth": 2,
      "padding": 0, "rowPadding": 4, "labelOffset": 1}
  }
}
